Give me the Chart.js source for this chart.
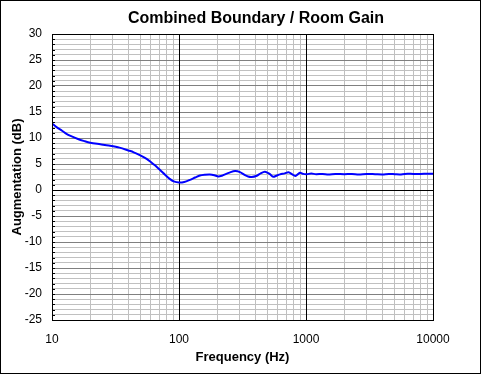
<!DOCTYPE html>
<html>
<head>
<meta charset="utf-8">
<script src="https://cdn.jsdelivr.net/npm/chart.js@4/dist/chart.umd.min.js"></script>
<style>
html,body{margin:0;padding:0;background:#fff;}
canvas{display:block;}
</style>
</head>
<body>
<canvas id="c" width="481" height="374"></canvas>
<script>
const chartTitle = "Combined Boundary / Room Gain";
const xTitle = "Frequency (Hz)";
const yTitle = "Augmentation (dB)";
const freqs = [10,11,12,13,14,16,18,20,24,28,34,40,44,50,56,60,65,71,78,85,92,100,110,122,134,146,160,175,190,204,218,230,250,276,302,331,350,372,410,440,474,500,520,552,590,625,680,728,780,822,860,898,950,1015,1100,1200,1350,1500,1700,2000,2300,2600,3000,3500,4000,4500,5000,5500,6000,7000,8000,9000,10000];
const gains = [12.8,12.0,11.4,10.8,10.4,9.8,9.4,9.1,8.8,8.55,8.15,7.6,7.25,6.6,5.95,5.4,4.7,3.85,2.9,2.1,1.6,1.45,1.55,1.95,2.4,2.8,2.95,3.0,2.85,2.6,2.75,3.0,3.35,3.65,3.45,2.85,2.6,2.5,2.75,3.2,3.5,3.3,3.05,2.55,2.8,3.0,3.2,3.4,3.0,2.7,3.0,3.33,3.1,3.05,3.15,3.05,3.1,3.0,3.1,3.05,3.1,3.0,3.1,3.05,3.0,3.1,3.05,3.0,3.1,3.1,3.1,3.13,3.13];
const xTicks = [10,20,30,40,50,60,70,80,90,100,200,300,400,500,600,700,800,900,1000,2000,3000,4000,5000,6000,7000,8000,9000,10000];
const yMin = -25, yMax = 30;

const isDecade = v => Math.abs(Math.log10(v) - Math.round(Math.log10(v))) < 1e-9;

const extras = {
  id: 'extras',
  beforeDatasetsDraw(chart) {
    const ctx = chart.ctx;
    const a = chart.chartArea;
    const xs = chart.scales.x, ys = chart.scales.y;
    ctx.save();
    ctx.strokeStyle = '#000';
    ctx.lineWidth = 1;
    // black decade lines and zero line on top of the grid
    xTicks.filter(isDecade).forEach(v => {
      const px = Math.round(xs.getPixelForValue(v)) + 0.5;
      ctx.beginPath(); ctx.moveTo(px, a.top); ctx.lineTo(px, a.bottom); ctx.stroke();
    });
    const p0 = Math.round(ys.getPixelForValue(0)) + 0.5;
    ctx.beginPath(); ctx.moveTo(a.left, p0); ctx.lineTo(a.right, p0); ctx.stroke();
    // small inner ticks on left axis
    for (let v = yMin; v <= yMax; v++) {
      const py = Math.round(ys.getPixelForValue(v)) + 0.5;
      ctx.beginPath(); ctx.moveTo(a.left, py); ctx.lineTo(a.left + 3, py); ctx.stroke();
    }
    ctx.restore();
  },
  afterDraw(chart) {
    const ctx = chart.ctx;
    const a = chart.chartArea;
    ctx.save();
    ctx.strokeStyle = '#000';
    ctx.lineWidth = 1;
    ctx.strokeRect(Math.round(a.left) + 0.5, Math.round(a.top) + 0.5, Math.round(a.right - a.left), Math.round(a.bottom - a.top));
    ctx.fillStyle = '#000';
    ctx.font = 'bold 16px "Liberation Sans", Arial, sans-serif';
    ctx.textAlign = 'center';
    ctx.textBaseline = 'middle';
    ctx.fillText(chartTitle, 256, 19);
    ctx.strokeRect(0.5, 0.5, chart.width - 1, chart.height - 1);
    ctx.restore();
  }
};

new Chart(document.getElementById('c'), {
  type: 'line',
  data: {
    datasets: [{
      data: freqs.map((f, i) => ({x: f, y: gains[i]})),
      borderColor: '#0000ff',
      borderWidth: 2,
      pointRadius: 0,
      tension: 0.3,
      fill: false
    }]
  },
  options: {
    responsive: false,
    animation: false,
    devicePixelRatio: 1,
    layout: { padding: { left: 0, right: 48, top: 34, bottom: 0 } },
    plugins: { legend: { display: false }, title: { display: false }, tooltip: { enabled: false } },
    scales: {
      x: {
        type: 'logarithmic',
        min: 10, max: 10000,
        afterBuildTicks: s => { s.ticks = xTicks.map(v => ({value: v})); },
        afterFit: s => { s.height = 54; },
        ticks: {
          autoSkip: false, maxRotation: 0, padding: 12,
          color: '#000',
          font: { family: '"Liberation Sans", Arial, sans-serif', size: 12 },
          callback: v => isDecade(v) ? String(v) : ''
        },
        grid: {
          drawTicks: false,
          color: c => (c.tick && isDecade(c.tick.value)) ? '#000' : '#c0c0c0',
          lineWidth: 1
        },
        border: { color: '#000' },
        title: {
          display: true, text: xTitle, color: '#000',
          font: { family: '"Liberation Sans", Arial, sans-serif', size: 13, weight: 'bold' },
          padding: { top: 0, bottom: 9 }
        }
      },
      y: {
        type: 'linear',
        min: yMin, max: yMax,
        afterFit: s => { s.width = 52; },
        ticks: {
          stepSize: 1, autoSkip: false, maxTicksLimit: 100, padding: 10,
          color: '#000',
          font: { family: '"Liberation Sans", Arial, sans-serif', size: 12 },
          callback: v => (v % 5 === 0) ? String(v) : ''
        },
        grid: {
          drawTicks: false,
          color: c => {
            const v = c.tick ? c.tick.value : 1;
            if (v === 0) return '#000';
            if (v % 5 === 0) return '#808080';
            return '#c0c0c0';
          },
          lineWidth: 1
        },
        border: { color: '#000' },
        title: {
          display: true, text: yTitle, color: '#000',
          font: { family: '"Liberation Sans", Arial, sans-serif', size: 13, weight: 'bold' },
          padding: { top: 10, bottom: 0 }
        }
      }
    }
  },
  plugins: [extras]
});
</script>
</body>
</html>
